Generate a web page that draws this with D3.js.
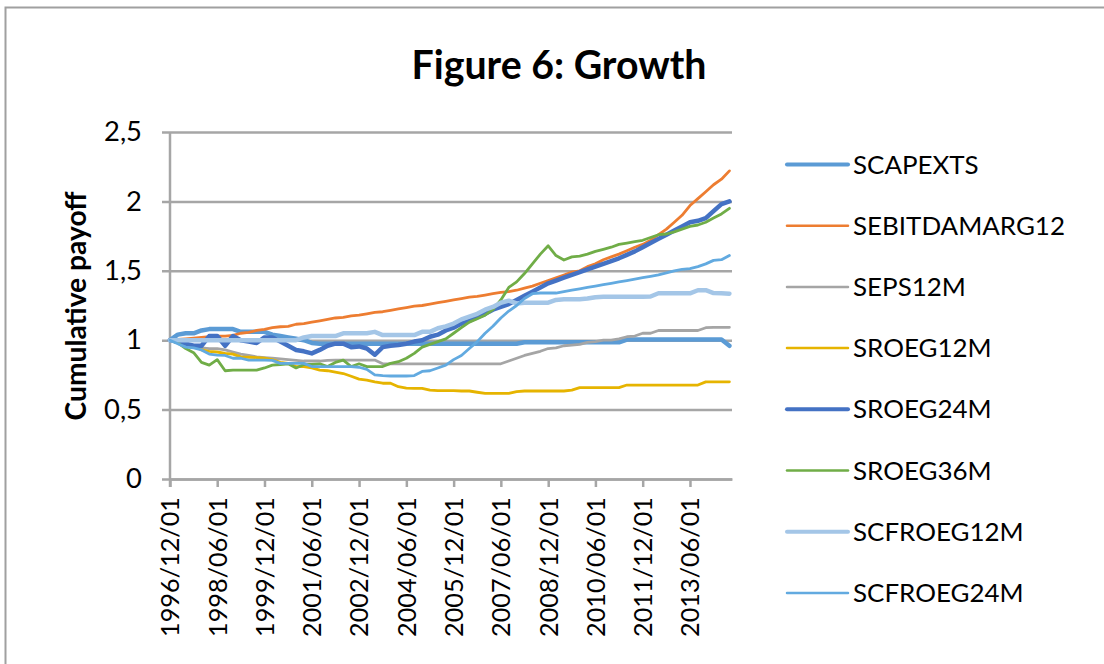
<!DOCTYPE html>
<html>
<head>
<meta charset="utf-8">
<script src="https://cdn.jsdelivr.net/npm/d3@7"></script>
<style>
  body { margin: 0; background: #fff; }
  text { font-family: Lato, "Open Sans", sans-serif; fill: #000; }
</style>
</head>
<body>
<svg id="chart" width="1104" height="664"></svg>
<script>
// quarterly readings, Dec 1996 .. Sep 2014 (72 points per series)
const startDate = new Date(1996, 11, 1);
const endDate = new Date(2014, 9, 1);
const dates = d3.range(72).map(i => d3.timeMonth.offset(startDate, i * 3));

const tickLabels = ["1996/12/01", "1998/06/01", "1999/12/01", "2001/06/01", "2002/12/01", "2004/06/01",
                    "2005/12/01", "2007/06/01", "2008/12/01", "2010/06/01", "2011/12/01", "2013/06/01"];
const yTicks = [0, 0.5, 1, 1.5, 2, 2.5];

const scapexts = [1.00, 1.04, 1.05, 1.05, 1.07, 1.08, 1.08, 1.08, 1.08, 1.06, 1.06, 1.06, 1.06, 1.04, 1.03, 1.02, 1.01, 1.00, 0.98, 0.975,
  0.975, 0.975, 0.975, 0.975, 0.975, 0.975, 0.975, 0.975, 0.975, 0.975, 0.975, 0.975, 0.975, 0.975, 0.975, 0.975, 0.975, 0.975, 0.975, 0.975,
  0.975, 0.975, 0.975, 0.975, 0.975, 0.985, 0.985, 0.985, 0.985, 0.985, 0.985, 0.985, 0.985, 0.985, 0.985, 0.985, 0.985, 0.985,
  1.005, 1.005, 1.005, 1.005, 1.005, 1.005, 1.005, 1.005, 1.005, 1.005, 1.005, 1.005, 1.005, 0.96];

const sebitdamarg12 = [1.00, 1.005, 1.01, 1.015, 1.02, 1.025, 1.03, 1.03, 1.035, 1.05, 1.057, 1.07, 1.078, 1.09, 1.097, 1.10, 1.115, 1.12,
  1.13, 1.14, 1.15, 1.16, 1.165, 1.175, 1.18, 1.19, 1.20, 1.205, 1.215, 1.225, 1.235, 1.245, 1.25, 1.26, 1.27, 1.28, 1.29, 1.30, 1.31, 1.315,
  1.325, 1.335, 1.345, 1.35, 1.36, 1.375, 1.39, 1.41, 1.43, 1.45, 1.47, 1.49, 1.50, 1.53, 1.55, 1.58, 1.60, 1.62, 1.645, 1.67, 1.69, 1.72,
  1.76, 1.80, 1.85, 1.90, 1.97, 2.02, 2.07, 2.12, 2.16, 2.22];

const seps12m = [1.00, 0.98, 0.96, 0.95, 0.945, 0.94, 0.94, 0.93, 0.915, 0.90, 0.89, 0.88, 0.875, 0.87, 0.865, 0.86, 0.855, 0.85, 0.85, 0.85,
  0.855, 0.857, 0.857, 0.857, 0.857, 0.857, 0.857, 0.83, 0.83, 0.83, 0.83, 0.83, 0.83, 0.83, 0.83, 0.83, 0.83, 0.83, 0.83, 0.83, 0.83, 0.83,
  0.83, 0.85, 0.87, 0.89, 0.905, 0.92, 0.94, 0.945, 0.96, 0.965, 0.97, 0.985, 0.99, 1.00, 1.00, 1.01, 1.025, 1.03, 1.05, 1.05, 1.07, 1.07,
  1.07, 1.07, 1.07, 1.07, 1.09, 1.093, 1.093, 1.093];

const sroeg12m = [1.00, 0.98, 0.965, 0.96, 0.93, 0.92, 0.915, 0.905, 0.90, 0.88, 0.877, 0.875, 0.87, 0.86, 0.84, 0.833, 0.81, 0.81, 0.80,
  0.785, 0.78, 0.77, 0.76, 0.74, 0.72, 0.713, 0.70, 0.69, 0.69, 0.665, 0.655, 0.653, 0.653, 0.64, 0.636, 0.636, 0.636, 0.634, 0.634, 0.625,
  0.617, 0.617, 0.617, 0.617, 0.63, 0.634, 0.634, 0.634, 0.634, 0.634, 0.634, 0.64, 0.658, 0.658, 0.658, 0.658, 0.658, 0.658,
  0.677, 0.677, 0.677, 0.677, 0.677, 0.677, 0.677, 0.677, 0.677, 0.677, 0.70, 0.70, 0.70, 0.70];

const sroeg24m = [1.00, 0.99, 0.975, 0.96, 0.96, 1.03, 1.03, 0.96, 1.03, 1.00, 0.99, 0.98, 1.02, 1.02, 0.99, 0.96, 0.93, 0.92, 0.905, 0.93,
  0.96, 0.975, 0.975, 0.95, 0.955, 0.94, 0.895, 0.95, 0.96, 0.965, 0.975, 0.99, 1.00, 1.025, 1.04, 1.07, 1.09, 1.12, 1.14, 1.165, 1.19,
  1.22, 1.24, 1.26, 1.29, 1.32, 1.35, 1.38, 1.41, 1.43, 1.45, 1.47, 1.49, 1.51, 1.53, 1.55, 1.57, 1.59, 1.615, 1.64, 1.67, 1.70, 1.73,
  1.76, 1.79, 1.82, 1.85, 1.86, 1.88, 1.93, 1.98, 2.00];

const sroeg36m = [1.00, 0.98, 0.94, 0.91, 0.84, 0.82, 0.86, 0.78, 0.785, 0.785, 0.785, 0.785, 0.80, 0.82, 0.825, 0.83, 0.80, 0.825, 0.825,
  0.83, 0.81, 0.84, 0.857, 0.81, 0.83, 0.81, 0.81, 0.81, 0.833, 0.845, 0.87, 0.905, 0.95, 0.97, 0.99, 1.01, 1.05, 1.09, 1.13, 1.155, 1.18,
  1.22, 1.29, 1.38, 1.42, 1.48, 1.55, 1.62, 1.68, 1.61, 1.578, 1.60, 1.605, 1.62, 1.64, 1.655, 1.67, 1.69, 1.70, 1.71, 1.72, 1.74, 1.76,
  1.765, 1.78, 1.80, 1.82, 1.83, 1.85, 1.88, 1.91, 1.95];

const scfroeg12m = [1.00, 1.00, 1.00, 1.00, 1.00, 1.00, 1.00, 1.00, 1.00, 1.00, 1.00, 1.00, 1.00, 1.00, 1.00, 1.00, 1.00, 1.02, 1.03, 1.03,
  1.03, 1.03, 1.05, 1.05, 1.05, 1.05, 1.06, 1.037, 1.037, 1.037, 1.037, 1.037, 1.06, 1.06, 1.086, 1.10, 1.12, 1.15, 1.17, 1.19, 1.22, 1.24,
  1.27, 1.285, 1.265, 1.27, 1.27, 1.27, 1.27, 1.29, 1.295, 1.295, 1.295, 1.30, 1.31, 1.313, 1.313, 1.313, 1.313, 1.313, 1.313, 1.315,
  1.338, 1.338, 1.338, 1.338, 1.338, 1.36, 1.36, 1.34, 1.338, 1.335];

const scfroeg24m = [1.00, 0.975, 0.95, 0.945, 0.93, 0.90, 0.893, 0.89, 0.87, 0.87, 0.857, 0.857, 0.857, 0.855, 0.833, 0.833, 0.833, 0.833,
  0.81, 0.81, 0.81, 0.81, 0.81, 0.81, 0.805, 0.79, 0.75, 0.745, 0.742, 0.742, 0.742, 0.745, 0.775, 0.78, 0.80, 0.82, 0.86, 0.89, 0.94, 0.99,
  1.05, 1.10, 1.16, 1.21, 1.25, 1.30, 1.335, 1.34, 1.34, 1.34, 1.35, 1.36, 1.37, 1.38, 1.39, 1.40, 1.41, 1.42, 1.43, 1.44, 1.45, 1.46,
  1.47, 1.485, 1.50, 1.51, 1.515, 1.53, 1.55, 1.575, 1.58, 1.61];

const seriesNames = ["SCAPEXTS", "SEBITDAMARG12", "SEPS12M", "SROEG12M", "SROEG24M", "SROEG36M", "SCFROEG12M", "SCFROEG24M"];
const seriesValues = [scapexts, sebitdamarg12, seps12m, sroeg12m, sroeg24m, sroeg36m, scfroeg12m, scfroeg24m];
const seriesColors = ["#5b9bd5", "#ed7d31", "#a5a5a5", "#e6b400", "#4472c4", "#70ad47", "#a4c6e7", "#62aae0"];
const seriesWidths = [4.5, 2.8, 2.8, 2.8, 4.5, 2.8, 4.5, 2.8];

const svg = d3.select('#chart');
const gridColor = '#a6a6a6';

// fit a text element to a target pixel width by scaling its font size
function fitWidth(sel, target) {
    const w = sel.node().getComputedTextLength();
    const fs = parseFloat(sel.attr('font-size'));
    sel.attr('font-size', (fs * target / w).toFixed(2));
    return fs * target / w;
}

svg.append('rect')
   .attr('x', 5.5).attr('y', 7.5)
   .attr('width', 1110).attr('height', 670)
   .attr('fill', '#fff')
   .attr('stroke', '#a0a0a0')
   .attr('stroke-width', 2);

const x = d3.scaleTime().domain([startDate, endDate]).range([170, 732]);
const y = d3.scaleLinear().domain([0, 2.5]).range([479, 132]);

// title
const title = svg.append('text')
   .attr('x', 559).attr('y', 79)
   .attr('text-anchor', 'middle')
   .attr('font-weight', 'bold')
   .attr('font-size', 40)
   .text('Figure 6: Growth');
fitWidth(title, 295);

// gridlines + y ticks
const yAxis = svg.append('g')
   .attr('transform', 'translate(162,0)')
   .call(d3.axisLeft(y).tickValues(yTicks).tickSize(-570).tickPadding(20)
           .tickFormat(d => String(d).replace('.', ',')));
yAxis.select('.domain').remove();
yAxis.selectAll('line').attr('stroke', gridColor).attr('stroke-width', 2.5);
yAxis.selectAll('text').attr('font-size', 27).attr('font-family', null);
const yFs = fitWidth(yAxis.select('.tick:last-of-type text'), 38);
yAxis.selectAll('text').attr('font-size', yFs);

svg.append('line')
   .attr('x1', 170).attr('x2', 170)
   .attr('y1', y(2.5)).attr('y2', y(0) + 8)
   .attr('stroke', gridColor).attr('stroke-width', 2.5);

// x axis
const tickDates = tickLabels.map(d3.timeParse('%Y/%m/%d'));
const xAxis = svg.append('g')
   .attr('transform', `translate(0,${y(0)})`)
   .call(d3.axisBottom(x).tickValues(tickDates).tickSize(8).tickSizeOuter(0)
           .tickFormat(d3.timeFormat('%Y/%m/%d')));
xAxis.select('.domain').attr('stroke', gridColor).attr('stroke-width', 2.5);
xAxis.selectAll('line').attr('stroke', gridColor).attr('stroke-width', 2.5);
xAxis.selectAll('text')
   .attr('font-family', null)
   .attr('font-size', 27)
   .attr('text-anchor', 'end')
   .attr('transform', 'rotate(-90)')
   .attr('x', -18).attr('y', 0).attr('dy', '0.35em');
const xFs = fitWidth(xAxis.select('.tick text'), 140);
xAxis.selectAll('text').attr('font-size', xFs);

// axis title
const yTitle = svg.append('text')
   .attr('transform', 'translate(86,306) rotate(-90)')
   .attr('text-anchor', 'middle')
   .attr('font-weight', 'bold')
   .attr('font-size', 27)
   .text('Cumulative payoff');
fitWidth(yTitle, 229);

// series
const line = d3.line()
   .x((d, i) => x(dates[i]))
   .y(d => y(d));

svg.append('g').selectAll('path')
   .data(seriesValues)
   .join('path')
   .attr('d', line)
   .attr('fill', 'none')
   .attr('stroke', (d, i) => seriesColors[i])
   .attr('stroke-width', (d, i) => seriesWidths[i])
   .attr('stroke-linejoin', 'round')
   .attr('stroke-linecap', 'round');

// legend
const legend = svg.append('g');
const rows = legend.selectAll('g')
   .data(seriesNames)
   .join('g')
   .attr('transform', (d, i) => `translate(787,${164.5 + i * 61.2})`);

rows.append('line')
   .attr('x1', 0).attr('x2', 61)
   .attr('stroke', (d, i) => seriesColors[i])
   .attr('stroke-width', (d, i) => seriesWidths[i] * 0.9)
   .attr('stroke-linecap', 'round');

rows.append('text')
   .attr('x', 66)
   .attr('dy', '0.35em')
   .attr('font-size', 27)
   .text(d => d);
const legFs = fitWidth(rows.filter((d, i) => i === 1).select('text'), 212);
rows.selectAll('text').attr('font-size', legFs);
</script>
</body>
</html>
